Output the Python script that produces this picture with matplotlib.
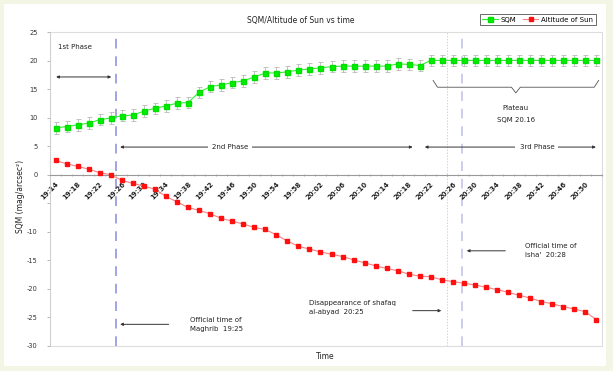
import numpy as np
import matplotlib
matplotlib.use("Agg")
import matplotlib.pyplot as plt
from matplotlib.patches import Rectangle

# values (one point every 2 minutes)
sqm = [8.25, 8.5, 8.8, 9.1, 9.7, 10.0, 10.4, 10.5, 11.2, 11.7,
       12.1, 12.6, 12.7, 14.5, 15.5, 15.8, 16.2, 16.5, 17.2, 17.9,
       17.9, 18.1, 18.4, 18.6, 18.8, 19.0, 19.1, 19.1, 19.1, 19.1,
       19.1, 19.5, 19.4, 19.2, 20.1, 20.1, 20.1, 20.1, 20.1, 20.1,
       20.1, 20.1, 20.1, 20.1, 20.1, 20.1, 20.1, 20.1, 20.1, 20.1]
sqm_err = 1.0
altitude = [2.55, 1.97, 1.5, 1.03, 0.4, 0.05, -0.94, -1.47, -1.94, -2.5,
            -3.77, -4.7, -5.7, -6.2, -6.8, -7.6, -8.1, -8.6, -9.2, -9.55,
            -10.5, -11.6, -12.5, -13.0, -13.5, -13.9, -14.3, -14.9, -15.4, -15.95,
            -16.4, -16.8, -17.4, -17.75, -17.85, -18.4, -18.7, -19.0, -19.3, -19.7,
            -20.1, -20.6, -21.1, -21.6, -22.2, -22.6, -23.1, -23.5, -24.0, -25.4]
tick_labels = ["19:14", "19:18", "19:22", "19:26", "19:30", "19:34", "19:38",
               "19:42", "19:46", "19:50", "19:54", "19:58", "20:02", "20:06",
               "20:10", "20:14", "20:18", "20:22", "20:26", "20:30", "20:34",
               "20:38", "20:42", "20:46", "20:50"]

maghrib_x = 5.5
shafaq_x = 35.5
isha_x = 36.8

x = np.arange(len(sqm))

fig = plt.figure(figsize=(6.13, 3.71), dpi=100)
fig.patch.set_facecolor('#f3f6e4')
fig.patches.append(Rectangle((0.0065, 0.0135), 0.982, 0.975, transform=fig.transFigure,
                             facecolor='white', edgecolor='none', zorder=-10))
ax = fig.add_axes([0.0816, 0.0674, 0.9004, 0.845])
ax.set_facecolor('none')

ax.set_xlim(-0.5, 49.5)
ax.set_ylim(-30, 25)
yt = np.arange(-30, 26, 5)
ax.set_yticks(yt)
ax.set_yticklabels(['' if v == -5 else str(v) for v in yt], fontsize=4.8, color='#333333')
ax.tick_params(axis='y', length=2, width=0.5, color='#999999', pad=7)

for s in ['top', 'right']:
    ax.spines[s].set_visible(False)
ax.spines['left'].set_color('#cccccc')
ax.spines['left'].set_linewidth(0.6)
ax.spines['bottom'].set_position(('data', 0))
ax.spines['bottom'].set_color('#999999')
ax.spines['bottom'].set_linewidth(0.8)
ax.add_patch(Rectangle((0, 0), 1, 1, transform=ax.transAxes, fill=False,
                       edgecolor='#dddddd', lw=0.8, zorder=0, clip_on=False))

ax.set_xticks(x[::2])
ax.set_xticklabels(tick_labels, rotation=45, ha='right', rotation_mode='anchor',
                   fontsize=5, color='#222222', fontweight='bold')
ax.set_xticks(np.arange(-0.5, 50, 1), minor=True)
ax.tick_params(axis='x', which='major', length=0, pad=4)
ax.tick_params(axis='x', which='minor', length=2, width=0.5, color='#999999', direction='inout')

# time markers
ax.axvline(maghrib_x, color='#a0a4e4', lw=1.4, ls=(0, (5, 4)), zorder=1)
ax.axvline(shafaq_x, color='#d4d4d4', lw=0.7, ls=(0, (1.5, 1.5)), zorder=1)
ax.axvline(isha_x, color='#ccccec', lw=1.4, ls=(0, (5, 4)), zorder=1)

ax.errorbar(x, sqm, yerr=sqm_err, fmt='none', ecolor='#b8b8b8', elinewidth=0.6,
            capsize=1.8, capthick=0.6, zorder=2)
ax.plot(x, sqm, color='#33ee33', lw=0.8, marker='s', ms=3.6, mfc='#00ee00',
        mec='#00dd00', label='SQM', zorder=3)
ax.plot(x, altitude, color='#ff8080', lw=0.8, marker='s', ms=2.8, mfc='#ff1010',
        mec='#ff1010', label='Altitude of Sun', zorder=3)

txt = dict(fontsize=5, color='#222222')
arr = dict(arrowstyle='-|>', color='#333333', lw=0.7, mutation_scale=4)
darr = dict(arrowstyle='<|-|>', color='#333333', lw=0.7, mutation_scale=4)

# phases
ax.annotate('', xy=(-0.2, 17.2), xytext=(5.3, 17.2), arrowprops=darr)
ax.text(1.8, 22.5, '1st Phase', ha='center', va='center', **txt)
ax.annotate('', xy=(5.6, 4.9), xytext=(32.6, 4.9), arrowprops=darr)
ax.text(15.8, 4.9, '2nd Phase', ha='center', va='center',
        bbox=dict(fc='white', ec='none', pad=3), **txt)
ax.annotate('', xy=(33.2, 4.9), xytext=(49.2, 4.9), arrowprops=darr)
ax.text(43.6, 4.9, '3rd Phase', ha='center', va='center',
        bbox=dict(fc='white', ec='none', pad=3), **txt)

# plateau brace
bx = [34.2, 34.6, 41.3, 41.7, 42.1, 48.8, 49.2]
by = [16.6, 15.4, 15.4, 14.4, 15.4, 15.4, 16.6]
ax.plot(bx, by, color='#555555', lw=0.6)
ax.text(41.7, 11.7, 'Plateau', ha='center', va='center', **txt)
ax.text(41.7, 9.6, 'SQM 20.16', ha='center', va='center', **txt)

# time annotations
ax.annotate('', xy=(maghrib_x + 0.1, -26.2), xytext=(10.5, -26.2), arrowprops=arr)
ax.text(12.2, -26.2, 'Official time of\nMaghrib  19:25', ha='left', va='center',
        linespacing=1.6, **txt)
ax.annotate('', xy=(shafaq_x - 0.3, -23.8), xytext=(32.1, -23.8), arrowprops=arr)
ax.text(23.0, -23.2, 'Disappearance of shafaq\nal-abyad  20:25', ha='left', va='center',
        linespacing=1.6, **txt)
ax.annotate('', xy=(isha_x + 0.2, -13.3), xytext=(41.0, -13.3), arrowprops=arr)
ax.text(42.5, -13.3, "Official time of\nIsha'  20:28", ha='left', va='center',
        linespacing=1.6, **txt)

fig.text(0.49, 0.946, 'SQM/Altitude of Sun vs time', ha='center', va='center',
         fontsize=5.5, color='#222222')
fig.text(0.53, 0.038, 'Time', ha='center', va='center', fontsize=5.5, color='#222222')
fig.text(0.033, 0.47, 'SQM (mag/arcsec²)', rotation=90, ha='center', va='center',
         fontsize=5.5, color='#222222')

leg = fig.legend(loc='upper right', bbox_to_anchor=(0.978, 0.972), fontsize=5,
                 frameon=True, ncol=2, handlelength=2.2, columnspacing=1.0,
                 borderpad=0.4, handletextpad=0.4)
leg.get_frame().set_edgecolor('#444444')
leg.get_frame().set_linewidth(0.7)
leg.get_frame().set_boxstyle('square', pad=0)

fig.savefig('out.png', dpi=100, facecolor=fig.get_facecolor())
